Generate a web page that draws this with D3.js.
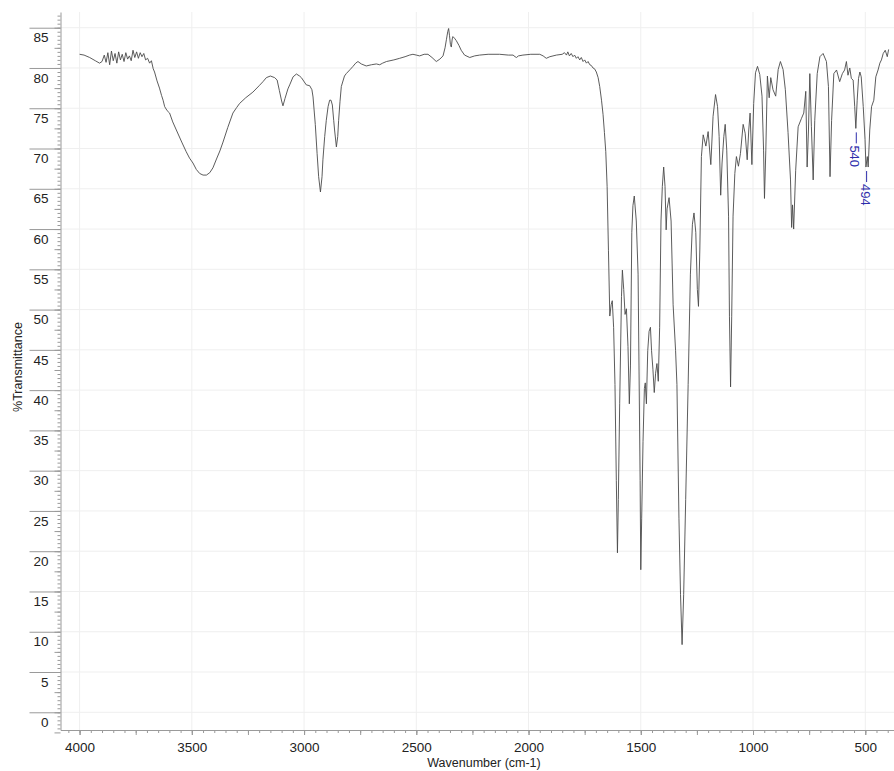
<!DOCTYPE html>
<html>
<head>
<meta charset="utf-8">
<script src="https://cdn.jsdelivr.net/npm/d3@7"></script>
<style>
  body { margin: 0; background: #fff; }
  svg { display: block; font-family: Arial, "Liberation Sans", sans-serif; }
</style>
</head>
<body>
<div id="my_dataviz"></div>
<script>
//////////////////////////// DATA
var wavenumber = [4000, 3980, 3955, 3930, 3911, 3900, 3890, 3882, 3874, 3866, 3858, 3850, 3842, 3834, 3826, 3818,
  3810, 3802, 3794, 3786, 3778, 3770, 3762, 3754, 3746, 3738, 3730, 3722, 3714, 3706, 3697, 3688, 3680, 3672, 3666,
  3655, 3644, 3635, 3628, 3621, 3610, 3599, 3585, 3569, 3545, 3525, 3510, 3495, 3480, 3465, 3450, 3435, 3420, 3406,
  3390, 3375, 3361, 3340, 3317, 3300, 3287, 3260, 3228, 3200, 3183, 3168, 3150, 3131, 3120, 3110, 3100, 3094, 3085,
  3072, 3064, 3049, 3034, 3020, 3012, 2990, 2975, 2965, 2960, 2950, 2942, 2935, 2927, 2920, 2916, 2908, 2901, 2893,
  2886, 2880, 2874, 2868, 2864, 2856, 2850, 2846, 2840, 2834, 2820, 2812, 2795, 2782, 2770, 2760, 2745, 2723, 2700,
  2678, 2663, 2650, 2633, 2600, 2574, 2550, 2530, 2515, 2500, 2485, 2465, 2448, 2430, 2411, 2395, 2381, 2372, 2366,
  2360, 2356, 2352, 2348, 2344, 2340, 2337, 2330, 2322, 2310, 2300, 2285, 2262, 2240, 2218, 2180, 2129, 2090, 2069,
  2060, 2054, 2045, 2025, 1990, 1950, 1935, 1921, 1905, 1876, 1850, 1840, 1831, 1825, 1818, 1810, 1802, 1795, 1787,
  1780, 1772, 1765, 1757, 1750, 1742, 1735, 1727, 1720, 1713, 1706, 1698, 1690, 1683, 1675, 1668, 1662, 1656, 1650,
  1644, 1638, 1632, 1627, 1621, 1615, 1609, 1604, 1600, 1594, 1586, 1582, 1576, 1570, 1564, 1557, 1551, 1546, 1540,
  1535, 1529, 1520, 1512, 1508, 1503, 1500, 1496, 1490, 1484, 1480, 1475, 1469, 1463, 1457, 1452, 1446, 1440, 1434,
  1428, 1422, 1416, 1410, 1404, 1398, 1392, 1387, 1383, 1374, 1365, 1356, 1345, 1339, 1330, 1323, 1316, 1309, 1300,
  1289, 1279, 1270, 1263, 1255, 1248, 1243, 1237, 1230, 1222, 1210, 1200, 1188, 1178, 1167, 1158, 1151, 1144, 1138,
  1130, 1124, 1117, 1109, 1105, 1100, 1095, 1089, 1081, 1074, 1065, 1056, 1044, 1035, 1026, 1019, 1013, 1005, 997,
  989, 980, 970, 960, 953, 949, 943, 936, 928, 921, 911, 899, 888, 878, 866, 856, 844, 833, 828, 824, 819, 810, 799,
  784, 774, 765, 759, 753, 747, 740, 732, 725, 714, 702, 688, 673, 664, 657, 650, 640, 628, 614, 602, 592, 584, 577,
  569, 562, 554, 547, 542, 536, 530, 524, 518, 509, 501, 497, 491, 487, 480, 472, 462, 453, 443, 435, 428, 420, 411,
  402, 396];

var transmittance = [81.7, 81.6, 81.3, 80.9, 80.6, 80.8, 81.6, 80.7, 81.9, 80.4, 82.1, 80.9, 81.8, 80.6, 82.0, 81.0,
  81.7, 80.8, 81.9, 81.1, 81.5, 80.9, 82.2, 81.3, 82.0, 81.2, 81.9, 81.4, 81.8, 81.0, 81.2, 80.6, 80.9, 79.9, 79.5,
  78.4, 77.5, 76.6, 76.0, 75.2, 74.7, 74.4, 73.3, 72.3, 70.8, 69.6, 68.8, 68.2, 67.4, 66.9, 66.7, 66.7, 67.0, 67.6,
  68.7, 69.7, 70.8, 72.6, 74.4, 75.1, 75.6, 76.3, 77.0, 77.8, 78.3, 78.8, 79.0, 78.8, 78.5, 77.2, 75.9, 75.3, 76.2,
  77.4, 77.9, 78.9, 79.25, 79.0, 78.8, 77.9, 77.8, 77.3, 76.4, 73.0, 69.4, 66.5, 64.6, 66.5, 68.6, 71.5, 73.5, 75.2,
  76.0, 76.0, 75.4, 73.5, 72.3, 70.2, 71.5, 73.5, 75.8, 77.7, 79.0, 79.3, 79.8, 80.2, 80.6, 80.8, 80.5, 80.25, 80.4,
  80.5, 80.4, 80.6, 80.8, 81.0, 81.2, 81.4, 81.6, 81.7, 81.6, 81.5, 81.7, 81.7, 81.3, 80.8, 81.1, 81.5, 82.5, 83.5,
  84.5, 84.9, 84.0, 82.9, 82.6, 83.6, 83.9, 83.7, 83.4, 82.8, 82.2, 81.6, 81.3, 81.5, 81.6, 81.7, 81.7, 81.6, 81.6,
  81.4, 81.3, 81.5, 81.6, 81.7, 81.7, 81.5, 81.2, 81.4, 81.6, 81.7, 81.9, 81.6, 82.0, 81.5, 81.8, 81.4, 81.6, 81.2,
  81.4, 81.0, 81.3, 80.8, 81.0, 80.6, 80.8, 80.4, 80.3, 80.0, 79.9, 79.5, 78.8, 77.7, 76.0, 74.2, 72.0, 69.6, 65.3,
  57.3, 49.2, 50.6, 51.1, 47.8, 40.7, 28.8, 19.8, 26.4, 38.3, 51.6, 54.9, 52.5, 49.4, 50.1, 45.4, 38.3, 43.0, 59.6,
  62.9, 64.1, 61.0, 54.4, 43.0, 28.8, 17.7, 24.1, 33.6, 40.2, 40.9, 38.3, 44.9, 47.3, 47.8, 44.9, 42.6, 39.7, 42.1,
  43.3, 41.1, 47.8, 61.0, 65.3, 67.7, 65.3, 59.9, 62.5, 63.9, 61.0, 50.6, 44.9, 40.7, 24.1, 14.6, 8.4, 14.6, 26.4,
  40.7, 54.4, 60.6, 62.0, 59.6, 52.5, 50.4, 57.4, 69.0, 71.7, 70.3, 72.1, 68.0, 74.0, 76.7, 75.2, 71.5, 64.2, 68.2,
  71.5, 73.0, 69.8, 61.6, 49.1, 40.4, 49.1, 61.6, 66.9, 69.0, 67.8, 69.4, 73.0, 71.9, 68.6, 72.3, 74.4, 68.0, 75.6,
  79.4, 80.2, 79.2, 76.5, 69.8, 63.8, 69.8, 79.0, 76.3, 78.8, 77.3, 76.5, 79.8, 80.8, 79.8, 77.3, 72.0, 66.1, 60.2, 63.0, 60.0, 67.3, 72.7,
  73.75, 74.4, 77.1, 67.7, 72.3, 79.3, 72.7, 66.1, 73.5, 79.3, 81.4, 81.8, 80.8, 77.7, 66.5, 73.5, 79.3, 79.75, 78.3, 79.3, 79.75, 80.8, 79.1,
  80.0, 78.7, 78.5, 75.2, 72.5, 76.0, 78.7, 79.5, 78.9, 75.2, 71.1, 67.7, 69.0, 67.7, 72.3, 75.2, 76.0, 78.9, 79.75, 80.6, 81.0, 81.8, 82.2,
  81.4, 82.3];

// annotated peaks
var peakWavenumbers = [540, 494];
var peakValues = [72.5, 67.7];

// tick labels
var xTickValues = [4000, 3500, 3000, 2500, 2000, 1500, 1000, 500];
var yTickValues = [0, 5, 10, 15, 20, 25, 30, 35, 40, 45, 50, 55, 60, 65, 70, 75, 80, 85];

var svgWidth = 894;
var svgHeight = 771;

var margin = {top: 12, right: 0, bottom: 41, left: 60.5},
    width = svgWidth - margin.left - margin.right,
    height = svgHeight - margin.top - margin.bottom;

var svg = d3.select("#my_dataviz")
  .append("svg")
    .attr("width", svgWidth)
    .attr("height", svgHeight)
  .append("g")
    .attr("transform", "translate(" + margin.left + "," + margin.top + ")");

// scales (wavenumber runs right to left)
var x = d3.scaleLinear().domain([4085, 372]).range([0, width]);
var y = d3.scaleLinear().domain([-2.2, 86.95]).range([height, 0]);

var axisColor = "#9a9a9a";
var textColor = "#222";

//////////////////////////////////////////////
// GRID
//////////////////////////////////////////////
svg.append("g").selectAll("line")
  .data(xTickValues)
  .enter().append("line")
    .attr("x1", d => x(d)).attr("x2", d => x(d))
    .attr("y1", 0).attr("y2", height)
    .style("stroke", "#efefef");

svg.append("g").selectAll("line")
  .data(yTickValues)
  .enter().append("line")
    .attr("x1", 0).attr("x2", width)
    .attr("y1", d => y(d)).attr("y2", d => y(d))
    .style("stroke", "#efefef");

//////////////////////////////////////////////
// AXES
//////////////////////////////////////////////
// x minor ticks every 50, medium every 250
var xMinor = d3.range(4050, 370, -50);
svg.append("g")
  .attr("transform", "translate(0," + height + ")")
  .call(d3.axisBottom(x).tickValues(xMinor).tickSize(3).tickFormat(""))
  .call(g => g.select(".domain").remove())
  .call(g => g.selectAll("line").style("stroke", axisColor));

svg.append("g")
  .attr("transform", "translate(0," + height + ")")
  .call(d3.axisBottom(x).tickValues(d3.range(4000, 370, -250)).tickSize(5).tickFormat(""))
  .call(g => g.select(".domain").remove())
  .call(g => g.selectAll("line").style("stroke", axisColor));

var xAxis = svg.append("g")
  .attr("transform", "translate(0," + height + ")")
  .call(d3.axisBottom(x).tickValues(xTickValues).tickSize(5).tickSizeOuter(0).tickFormat(d3.format("d")));
xAxis.select(".domain").style("stroke", axisColor);
xAxis.selectAll("line").style("stroke", axisColor);
xAxis.selectAll("text")
  .attr("y", 12)
  .style("font-size", "13.5px")
  .style("fill", textColor);

// y minor ticks every 0.5, medium every 2.5
svg.append("g")
  .call(d3.axisLeft(y).tickValues(d3.range(-2, 87, 0.5)).tickSize(3).tickFormat(""))
  .call(g => g.select(".domain").remove())
  .call(g => g.selectAll("line").style("stroke", axisColor));

svg.append("g")
  .call(d3.axisLeft(y).tickValues(d3.range(-2.5, 87, 2.5)).tickSize(6).tickFormat(""))
  .call(g => g.select(".domain").remove())
  .call(g => g.selectAll("line").style("stroke", axisColor));

var yAxis = svg.append("g")
  .call(d3.axisLeft(y).tickValues(yTickValues).tickSize(31).tickSizeOuter(0));
yAxis.select(".domain").style("stroke", axisColor);
yAxis.selectAll("line").style("stroke", axisColor);
yAxis.selectAll("text")
  .attr("x", -12)
  .attr("dy", "1.05em")
  .style("font-size", "13.5px")
  .style("fill", textColor);

// axis titles
svg.append("text")
  .attr("text-anchor", "middle")
  .attr("transform", "translate(" + (484 - margin.left) + "," + (767 - margin.top) + ")")
  .style("font-size", "12.5px")
  .style("fill", textColor)
  .text("Wavenumber (cm-1)");

svg.append("text")
  .attr("text-anchor", "middle")
  .attr("transform", "translate(" + (22 - margin.left) + "," + (367 - margin.top) + ")rotate(-90)")
  .style("font-size", "12.5px")
  .style("fill", textColor)
  .text("%Transmittance");

//////////////////////////////////////////////
// SPECTRUM
//////////////////////////////////////////////
var points = wavenumber.map((w, i) => [w, transmittance[i]]);

svg.append("path")
  .datum(points)
  .attr("d", d3.line().x(d => x(d[0])).y(d => y(d[1])))
  .style("fill", "none")
  .style("stroke", "#4a4a4a")
  .style("stroke-width", 0.9);

// peak labels
var labelColor = "#2d2dab";
var peaks = svg.append("g").selectAll("g")
  .data(peakWavenumbers.map((w, i) => ({w: w, t: peakValues[i]})))
  .enter().append("g");

peaks.append("line")
  .attr("x1", d => x(d.w)).attr("x2", d => x(d.w))
  .attr("y1", d => y(d.t) + 4).attr("y2", d => y(d.t) + 15)
  .style("stroke", labelColor);

peaks.append("text")
  .attr("transform", d => "translate(" + (x(d.w) - 1.5) + "," + (y(d.t) + 17) + ")rotate(90)")
  .attr("dominant-baseline", "central")
  .style("font-size", "13px")
  .style("fill", labelColor)
  .text(d => d.w);
</script>
</body>
</html>
